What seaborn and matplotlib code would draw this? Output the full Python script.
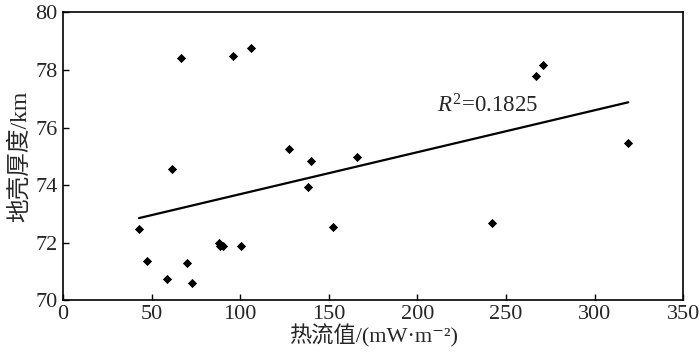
import numpy as np
import pandas as pd
import matplotlib
matplotlib.use('Agg')
import matplotlib.pyplot as plt
import seaborn as sns

# --- data ---
heat_flow = [66.4, 95.7, 106.1, 61.3, 42.9, 47.3, 58.7, 70.2, 72.8, 88.0, 88.4,
             90.3, 100.4, 127.3, 140.1, 138.4, 152.1, 166.0, 242.1, 267.1, 271.0, 319.0]
crust_thickness = [78.42, 78.49, 78.78, 74.57, 72.47, 71.36, 70.76, 71.29, 70.62, 72.01, 71.89,
                   71.89, 71.90, 75.25, 74.83, 73.93, 72.56, 74.98, 72.69, 77.78, 78.19, 75.46]
r2_label = '0.1825'
x_ticks = [0, 50, 100, 150, 200, 250, 300, 350]
y_ticks = [70, 72, 74, 76, 78, 80]

df = pd.DataFrame({'q': heat_flow, 'h': crust_thickness})

# --- style ---
sns.set_style('ticks')
plt.rcParams['font.family'] = ['Liberation Serif', 'Noto Sans CJK SC', 'DejaVu Serif']
plt.rcParams['mathtext.fontset'] = 'custom'
plt.rcParams['mathtext.rm'] = 'Liberation Serif'
plt.rcParams['mathtext.it'] = 'Liberation Serif:italic'
plt.rcParams['axes.unicode_minus'] = False

fig = plt.figure(figsize=(7, 3.56), dpi=100)
ax = fig.add_axes([0.09, 0.156, 0.886, 0.809])

sns.scatterplot(data=df, x='q', y='h', marker='D', color='black', s=22,
                edgecolor='black', linewidth=0, ax=ax)
sns.regplot(data=df, x='q', y='h', scatter=False, ci=None, truncate=True,
            line_kws={'color': 'black', 'lw': 1.6}, ax=ax)

ax.text(211, 76.75, r'$\mathit{R}^{2}$=' + r2_label, fontsize=16.5, va='center', ha='left')

ax.set_xlim(0, 350)
ax.set_ylim(70, 80)
ax.set_xticks(x_ticks)
ax.set_yticks(y_ticks)
ax.tick_params(direction='in', length=4, width=1, labelsize=16, color='black',
               top=False, right=False)
ax.tick_params(axis='x', pad=3)
ax.tick_params(axis='y', pad=4)
for s in ax.spines.values():
    s.set_visible(True)
    s.set_color('black')
    s.set_linewidth(1.2)

ax.set_xlabel('热流值/(mW·m⁻²)', fontsize=16, labelpad=0)
ax.set_ylabel('地壳厚度/km', fontsize=17, labelpad=3)

fig.savefig('out.png', dpi=100)
